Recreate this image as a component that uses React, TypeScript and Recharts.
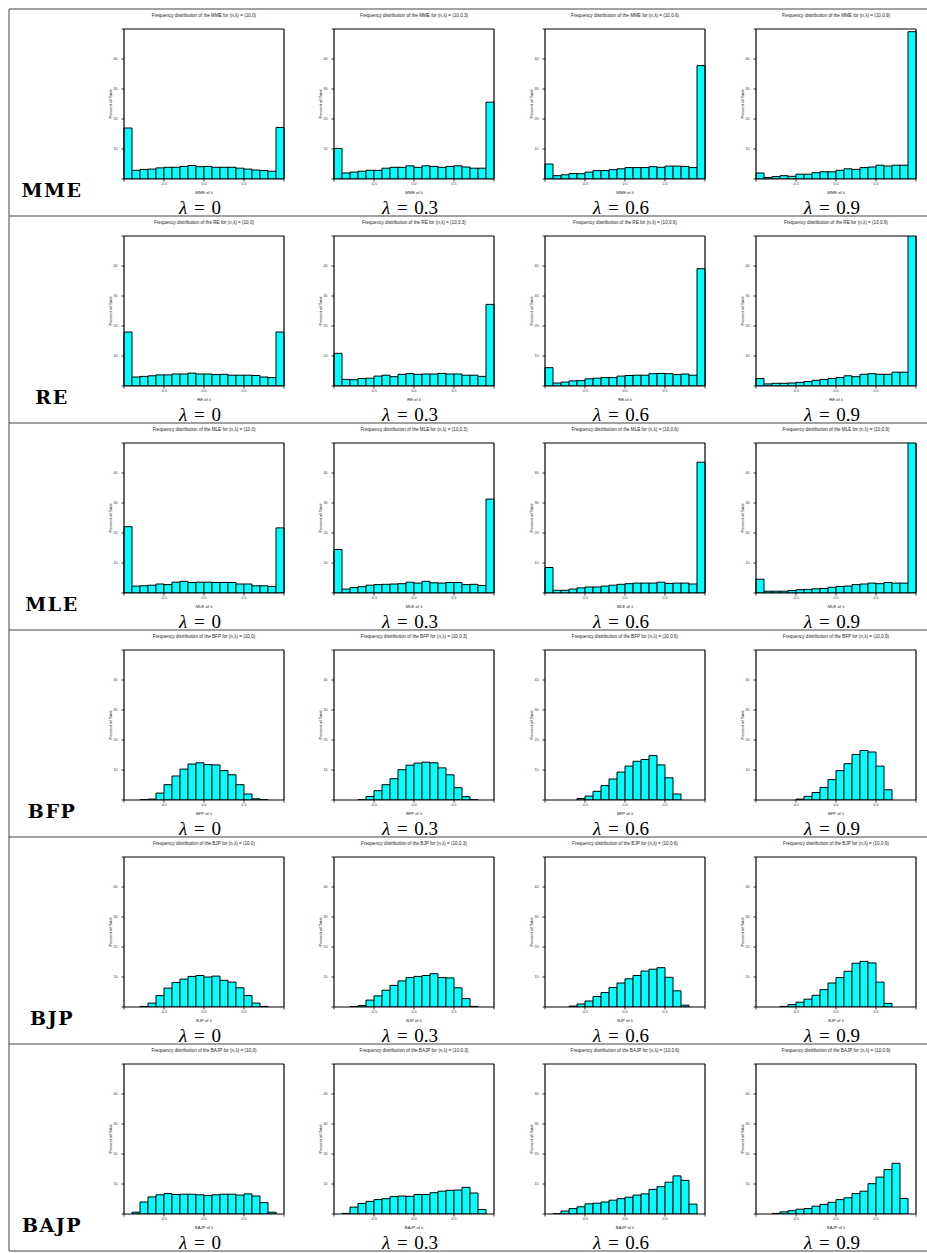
import { Bar, BarChart, XAxis, YAxis } from "recharts";

const estimators = ["MME", "RE", "MLE", "BFP", "BJP", "BAJP"];
const lambdas = ["0", "0.3", "0.6", "0.9"];
const bins = [
  "-0.95", "-0.85", "-0.75", "-0.65", "-0.55", "-0.45", "-0.35", "-0.25", "-0.15", "-0.05",
  "0.05", "0.15", "0.25", "0.35", "0.45", "0.55", "0.65", "0.75", "0.85", "0.95",
];
const xTicks = [-1, -0.5, 0, 0.5, 1];
const yTicks = [0, 10, 20, 30, 40, 50];

// percent of total per bin of width 0.1 on [-1, 1]
const mme0 = [17.0, 2.9, 3.2, 3.3, 3.7, 3.9, 3.9, 4.2, 4.5, 4.1, 4.2, 3.9, 3.9, 3.9, 3.6, 3.3, 3.0, 2.8, 2.6, 17.2];
const mme3 = [10.2, 2.0, 2.3, 2.6, 2.9, 2.9, 3.6, 3.9, 3.9, 4.4, 3.9, 4.4, 4.2, 3.9, 4.2, 4.4, 4.0, 3.6, 3.6, 25.6];
const mme6 = [5.0, 1.1, 1.4, 1.8, 1.8, 2.3, 2.8, 2.8, 3.1, 3.4, 3.8, 3.8, 3.8, 4.1, 3.9, 4.3, 4.3, 4.2, 3.8, 37.8];
const mme9 = [2.0, 0.5, 0.8, 1.1, 0.9, 1.6, 1.6, 2.1, 2.4, 2.4, 2.9, 3.4, 3.2, 3.8, 4.0, 4.6, 4.3, 4.6, 4.6, 49.1];

const re0 = [18.0, 3.0, 3.2, 3.4, 3.7, 3.7, 4.0, 4.0, 4.3, 4.0, 4.0, 3.8, 3.9, 3.6, 3.6, 3.6, 3.5, 3.0, 2.8, 18.0];
const re3 = [10.9, 2.2, 2.1, 2.5, 2.6, 3.3, 3.6, 3.1, 3.9, 4.1, 3.9, 4.0, 4.0, 4.2, 4.0, 4.0, 3.6, 3.6, 3.2, 27.2];
const re6 = [6.1, 1.0, 1.3, 1.7, 1.8, 2.4, 2.6, 2.8, 2.8, 3.3, 3.5, 3.6, 3.6, 4.1, 4.2, 4.1, 3.8, 4.0, 3.6, 39.1];
const re9 = [2.5, 0.7, 0.9, 0.9, 1.0, 1.2, 1.5, 1.9, 2.2, 2.5, 2.8, 3.4, 3.1, 3.9, 4.1, 3.9, 3.9, 4.6, 4.6, 52];

const mle0 = [22.1, 2.3, 2.4, 2.6, 3.0, 2.8, 3.6, 3.9, 3.5, 3.6, 3.6, 3.5, 3.5, 3.5, 3.0, 3.0, 2.4, 2.4, 2.2, 21.7];
const mle3 = [14.5, 1.3, 1.8, 2.1, 2.6, 2.8, 2.9, 3.0, 3.1, 3.6, 3.3, 3.9, 3.4, 3.3, 3.5, 3.5, 2.8, 2.9, 2.5, 31.3];
const mle6 = [8.5, 0.9, 0.9, 1.3, 1.7, 2.0, 2.0, 2.3, 2.6, 2.9, 3.1, 3.3, 3.3, 3.3, 3.6, 3.2, 3.3, 3.3, 3.0, 43.6];
const mle9 = [4.6, 0.6, 0.6, 0.6, 0.8, 1.1, 1.2, 1.4, 1.5, 1.9, 2.2, 2.3, 2.8, 3.0, 3.3, 3.1, 3.5, 3.3, 3.3, 58];

const bfp0 = [0, 0, 0.1, 0.3, 2.3, 5.1, 8.0, 10.3, 12.0, 12.4, 11.8, 11.7, 9.8, 8.4, 5.1, 2.0, 0.4, 0.1, 0, 0];
const bfp3 = [0, 0, 0, 0.1, 1.2, 3.1, 5.1, 7.1, 10.1, 11.6, 12.3, 12.6, 12.4, 10.7, 8.4, 4.1, 1.1, 0.1, 0, 0];
const bfp6 = [0, 0, 0, 0, 0.5, 1.3, 2.9, 4.8, 7.0, 9.3, 11.3, 12.9, 13.5, 14.8, 11.7, 7.4, 2.0, 0, 0, 0];
const bfp9 = [0, 0, 0, 0, 0, 0.3, 1.2, 2.5, 4.2, 6.8, 9.8, 12.1, 15.2, 16.5, 16.0, 11.3, 3.4, 0, 0, 0];

const bjp0 = [0, 0, 0.2, 1.3, 3.8, 6.3, 8.2, 9.3, 10.2, 10.5, 10.0, 10.3, 8.9, 8.3, 6.4, 3.8, 1.3, 0.2, 0, 0];
const bjp3 = [0, 0, 0.1, 0.5, 2.3, 3.7, 5.6, 7.2, 8.7, 9.8, 10.2, 10.5, 11.1, 9.8, 9.7, 6.4, 2.8, 0.2, 0, 0];
const bjp6 = [0, 0, 0, 0.3, 1.0, 2.0, 3.5, 4.8, 6.5, 8.0, 9.4, 10.5, 12.0, 12.6, 13.1, 9.9, 5.4, 0.6, 0, 0];
const bjp9 = [0, 0, 0, 0.2, 0.8, 1.6, 2.6, 3.9, 5.8, 8.0, 9.8, 11.9, 14.6, 15.2, 14.7, 8.3, 1.2, 0, 0, 0];

const bajp0 = [0, 0.6, 4.0, 5.7, 6.4, 6.8, 6.5, 6.6, 6.6, 6.4, 6.2, 6.4, 6.6, 6.6, 6.3, 6.7, 6.0, 3.8, 0.6, 0];
const bajp3 = [0, 0.2, 2.3, 3.5, 4.2, 4.8, 5.1, 5.8, 6.0, 5.9, 6.5, 6.5, 7.1, 7.6, 7.9, 8.0, 8.9, 7.0, 1.5, 0];
const bajp6 = [0, 0.1, 1.0, 1.8, 2.4, 3.4, 3.6, 4.0, 4.6, 5.1, 5.6, 6.3, 6.7, 8.2, 9.1, 10.6, 12.7, 11.2, 3.3, 0];
const bajp9 = [0, 0, 0.2, 0.7, 1.1, 1.6, 1.8, 2.6, 3.2, 3.9, 4.8, 5.4, 6.8, 7.6, 10.1, 12.3, 14.8, 16.9, 5.2, 0];

const panels: Record<string, number[][]> = {
  MME: [mme0, mme3, mme6, mme9],
  RE: [re0, re3, re6, re9],
  MLE: [mle0, mle3, mle6, mle9],
  BFP: [bfp0, bfp3, bfp6, bfp9],
  BJP: [bjp0, bjp3, bjp6, bjp9],
  BAJP: [bajp0, bajp3, bajp6, bajp9],
};

const TABLE_X = 9;
const TABLE_R = 927;
const ROW_TOP = 9;
const ROW_H = 207;
const BOX_LEFTS = [124, 334, 545, 756];
const BOX_W = 160;
const BOX_H = 150;
const BOX_OFF = 20;
const AX_L = 14;
const AX_R = 6;
const AX_T = 6;
const AX_B = 12;

const sans = "'Liberation Sans', Arial, sans-serif";
const tinyTick = { fontSize: 3.6, fill: "#333", fontFamily: sans };
const axisLine = { stroke: "#000", strokeWidth: 1.2 };
const tickLine = { stroke: "#000", strokeWidth: 0.8 };

function Histogram({ values, left, top }: { values: number[]; left: number; top: number }) {
  const rows = bins.map((b, i) => ({ bin: b, mid: Number(b), pct: values[i] }));
  return (
    <div style={{ position: "absolute", left: left - AX_L, top: top - AX_T }}>
      <BarChart
        width={AX_L + BOX_W + AX_R}
        height={AX_T + BOX_H + AX_B}
        data={rows}
        margin={{ top: 0, right: 0, bottom: 0, left: 0 }}
        barCategoryGap={0}
        barGap={0}
      >
        <XAxis
          xAxisId="num"
          dataKey="mid"
          type="number"
          domain={[-1, 1]}
          allowDataOverflow
          ticks={xTicks}
          interval={0}
          height={AX_B}
          tickSize={2.5}
          tickMargin={1}
          tick={tinyTick}
          axisLine={axisLine}
          tickLine={tickLine}
          tickFormatter={(v: number) => (Math.abs(v) === 1 ? "" : v.toFixed(1))}
        />
        <XAxis xAxisId="bins" dataKey="bin" hide height={0} />
        <XAxis
          xAxisId="top"
          dataKey="mid"
          orientation="top"
          type="number"
          domain={[-1, 1]}
          allowDataOverflow
          ticks={xTicks}
          interval={0}
          height={AX_T}
          tickSize={2.5}
          tick={false}
          axisLine={axisLine}
          tickLine={tickLine}
        />
        <YAxis
          yAxisId="pct"
          domain={[0, 50]}
          allowDataOverflow
          ticks={yTicks}
          interval={0}
          width={AX_L}
          tickSize={2.5}
          tickMargin={4}
          tick={tinyTick}
          axisLine={axisLine}
          tickLine={tickLine}
          tickFormatter={(v: number) => (v === 0 || v === 50 ? "" : String(v))}
        />
        <YAxis
          yAxisId="right"
          dataKey="pct"
          orientation="right"
          domain={[0, 50]}
          allowDataOverflow
          ticks={yTicks}
          interval={0}
          width={AX_R}
          tickSize={2.5}
          tick={false}
          axisLine={axisLine}
          tickLine={tickLine}
        />
        <Bar
          xAxisId="bins"
          yAxisId="pct"
          dataKey="pct"
          fill="#00ffff"
          stroke="#000"
          strokeWidth={1}
          isAnimationActive={false}
        />
      </BarChart>
    </div>
  );
}

export default function App() {
  const rowTops = estimators.map((_, i) => ROW_TOP + i * ROW_H);
  return (
    <div
      style={{
        position: "absolute",
        left: 0,
        top: 0,
        width: 927,
        height: 1253,
        background: "#fff",
      }}
    >
      <svg width={927} height={1253} style={{ position: "absolute", left: 0, top: 0 }}>
        {[...rowTops, ROW_TOP + estimators.length * ROW_H].map((y) => (
          <line key={y} x1={TABLE_X} x2={TABLE_R} y1={y} y2={y} stroke="#444" strokeWidth={1} />
        ))}
        <line
          x1={TABLE_X}
          x2={TABLE_X}
          y1={ROW_TOP}
          y2={ROW_TOP + estimators.length * ROW_H}
          stroke="#444"
          strokeWidth={1}
        />
        {estimators.map((est, ri) => {
          const top = rowTops[ri];
          return (
            <g key={est}>
              <text
                x={52}
                y={top + 188}
                textAnchor="middle"
                style={{ fontFamily: "'DejaVu Serif', serif", fontWeight: "bold", fontSize: 19, letterSpacing: 1.5 }}
              >
                {est}
              </text>
              {lambdas.map((lam, ci) => {
                const bl = BOX_LEFTS[ci];
                const cx = bl + BOX_W / 2;
                return (
                  <g key={lam}>
                    <text x={cx} y={top + 7.7} textAnchor="middle" fontFamily={sans} fontSize={4.6} fill="#222">
                      {`Frequency distribution of the ${est} for (n,λ) = (10,${lam})`}
                    </text>
                    <text x={cx} y={top + 185} textAnchor="middle" fontFamily={sans} fontSize={4.2} fill="#222">
                      {`${est} of λ`}
                    </text>
                    <text
                      transform={`translate(${bl - 12.5},${top + BOX_OFF + BOX_H / 2}) rotate(-90)`}
                      textAnchor="middle"
                      fontFamily={sans}
                      fontSize={4.2}
                      fill="#222"
                    >
                      Percent of Total
                    </text>
                    <text
                      x={cx - 4}
                      y={top + 205}
                      textAnchor="middle"
                      style={{ fontFamily: "'Liberation Serif', 'Times New Roman', serif", fontSize: 19, wordSpacing: 2 }}
                    >
                      <tspan fontStyle="italic">λ</tspan>
                      {` = ${lam}`}
                    </text>
                  </g>
                );
              })}
            </g>
          );
        })}
      </svg>
      {estimators.map((est, ri) =>
        lambdas.map((lam, ci) => (
          <Histogram
            key={`${est}-${lam}`}
            values={panels[est][ci]}
            left={BOX_LEFTS[ci]}
            top={rowTops[ri] + BOX_OFF}
          />
        ))
      )}
    </div>
  );
}
